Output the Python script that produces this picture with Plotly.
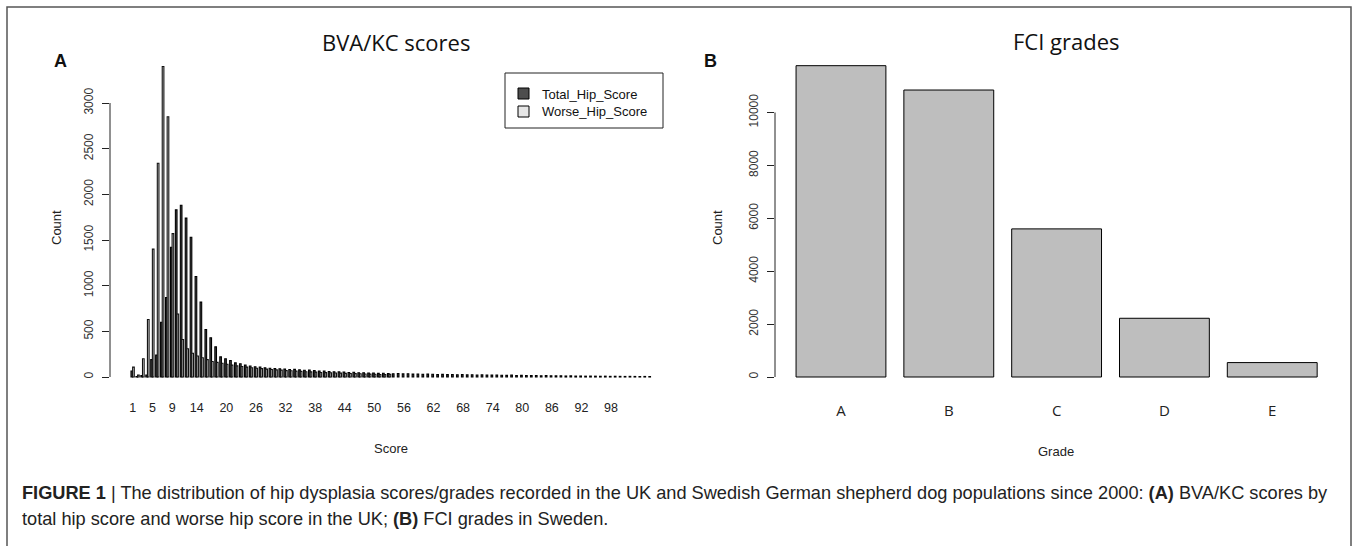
import plotly.graph_objects as go

W, H = 1360, 546

# ---- Panel A: BVA/KC hip scores (UK) ----
scores = list(range(1, 107))
total_hip_score = [
    65, 5, 15, 20, 190, 240, 600, 870, 1420, 1830,
    1880, 1740, 1530, 1100, 820, 520, 430, 330, 220, 200,
    180, 155, 145, 130, 120, 112, 108, 100, 96, 92,
    90, 86, 82, 84, 78, 74, 75, 70, 64, 66,
    60, 58, 56, 55, 50, 52, 46, 47, 44, 43,
    40, 41, 38, 36, 38, 34, 35, 32, 33, 30,
    31, 30, 27, 29, 26, 27, 25, 26, 23, 24,
    22, 23, 20, 21, 20, 19, 18, 20, 17, 18,
    16, 15, 17, 14, 15, 13, 12, 14, 11, 12,
    10, 11, 9, 10, 9, 8, 9, 7, 8, 7,
    6, 7, 6, 5, 6, 5,
]
worse_hip_score = [
    108, 20, 200, 630, 1400, 2340, 3400, 2850, 1570, 690,
    410, 310, 260, 230, 210, 190, 170, 160, 150, 140,
    130, 122, 115, 108, 102, 96, 92, 86, 82, 78,
    75, 70, 68, 64, 62, 58, 56, 53, 50, 48,
    46, 44, 42, 40, 38, 37, 35, 33, 31, 30,
    28, 26, 30,
]
score_tick_labels = [1, 5, 9, 14, 20, 26, 32, 38, 44, 50, 56, 62, 68, 74, 80, 86, 92, 98]
count_ticks_a = [0, 500, 1000, 1500, 2000, 2500, 3000]

# ---- Panel B: FCI grades (Sweden) ----
grades = ["A", "B", "C", "D", "E"]
fci_counts = [11770, 10850, 5600, 2220, 545]
count_ticks_b = [0, 2000, 4000, 6000, 8000, 10000]


def px(x):
    return x / W


def py(y):
    return 1 - y / H


ARIAL = "Liberation Sans, Arial, sans-serif"
TITLE_FONT = "Open Sans, sans-serif"

fig = go.Figure()

fig.add_trace(go.Bar(
    x=scores, y=total_hip_score, name="Total_Hip_Score",
    offset=-1 / 3, width=1 / 3,
    marker=dict(color="#4D4D4D", line=dict(color="black", width=1.1)),
    xaxis="x", yaxis="y", showlegend=False, hoverinfo="x+y",
))
fig.add_trace(go.Bar(
    x=scores[:len(worse_hip_score)], y=worse_hip_score, name="Worse_Hip_Score",
    offset=0, width=1 / 3,
    marker=dict(color="#E6E6E6", line=dict(color="#111", width=1.1)),
    xaxis="x", yaxis="y", showlegend=False, hoverinfo="x+y",
))
fig.add_trace(go.Bar(
    x=grades, y=fci_counts, name="FCI",
    width=1 / 1.2,
    marker=dict(color="#BEBEBE", line=dict(color="black", width=1)),
    xaxis="x2", yaxis="y2", showlegend=False, hoverinfo="x+y",
))

ybot, ytop = 389, 54
common_y = dict(
    showgrid=False, zeroline=False, showline=False,
    ticks="outside", ticklen=7, tickwidth=1, tickcolor="#222",
    tickangle=-90, ticklabelstandoff=4,
    tickfont=dict(family=ARIAL, size=12, color="#333"),
    domain=[py(ybot), py(ytop)],
)
# pixels per count: panel A 0.09133, panel B 0.02645 (baseline at y=377)
fig.update_layout(
    width=W, height=H,
    margin=dict(l=0, r=0, t=0, b=0),
    paper_bgcolor="white", plot_bgcolor="white",
    barmode="overlay",
    xaxis=dict(
        domain=[px(110), px(673)], range=[-3.59, 110.56],
        showgrid=False, zeroline=False, showline=False,
        tickvals=score_tick_labels, ticktext=[str(v) for v in score_tick_labels],
        ticks="outside", ticklen=7, tickcolor="rgba(0,0,0,0)",
        tickfont=dict(family=ARIAL, size=12.5, color="#222"),
        anchor="y",
    ),
    yaxis=dict(
        range=[(377 - ybot) / 0.09133, (377 - ytop) / 0.09133],
        tickvals=count_ticks_a, ticktext=[str(v) for v in count_ticks_a],
        anchor="x", **common_y,
    ),
    xaxis2=dict(
        domain=[px(775), px(1338)], range=[-0.612, 4.61],
        showgrid=False, zeroline=False, showline=False,
        ticks="outside", ticklen=8, tickcolor="rgba(0,0,0,0)",
        tickfont=dict(family=TITLE_FONT, size=15, color="#222"),
        anchor="y2",
    ),
    yaxis2=dict(
        range=[(377 - ybot) / 0.02645, (377 - ytop) / 0.02645],
        tickvals=count_ticks_b, ticktext=[str(v) for v in count_ticks_b],
        anchor="x2", **common_y,
    ),
)

shapes = [
    # outer frame
    dict(type="rect", xref="paper", yref="paper",
         x0=px(7), x1=px(1351), y0=py(560), y1=py(7),
         line=dict(color="#555", width=1.5)),
    # R-style axis lines spanning only the tick range
    dict(type="line", xref="x domain", yref="y", x0=0, x1=0, y0=0, y1=3000,
         line=dict(color="#222", width=1)),
    dict(type="line", xref="x2 domain", yref="y2", x0=0, x1=0, y0=0, y1=10000,
         line=dict(color="#222", width=1)),
    # legend box and swatches
    dict(type="rect", xref="paper", yref="paper",
         x0=px(505), x1=px(663), y0=py(128), y1=py(73),
         line=dict(color="#222", width=1), fillcolor="white"),
    dict(type="rect", xref="paper", yref="paper",
         x0=px(518), x1=px(529), y0=py(99), y1=py(88),
         line=dict(color="black", width=1), fillcolor="#4D4D4D"),
    dict(type="rect", xref="paper", yref="paper",
         x0=px(518), x1=px(529), y0=py(117), y1=py(106),
         line=dict(color="black", width=1), fillcolor="#E6E6E6"),
]
fig.update_layout(shapes=shapes)


def note(text, x, y, size, family=ARIAL, xanchor="center", angle=0, color="#222"):
    return dict(text=text, x=px(x), y=py(y), xref="paper", yref="paper",
                xanchor=xanchor, yanchor="middle", showarrow=False,
                textangle=angle, font=dict(family=family, size=size, color=color))


annotations = [
    note("BVA/KC scores", 396, 42, 22, TITLE_FONT, color="#111"),
    note("FCI grades", 1066, 41, 22, TITLE_FONT, color="#111"),
    note("<b>A</b>", 60, 61, 18, color="#111"),
    note("<b>B</b>", 710, 61, 18, color="#111"),
    note("Count", 56, 228, 13, angle=-90),
    note("Count", 717, 228, 13, angle=-90),
    note("Score", 391, 448, 13),
    note("Grade", 1056, 452, 13),
    note("Total_Hip_Score", 540, 94, 13, xanchor="left", color="#111"),
    note("Worse_Hip_Score", 540, 112, 13, xanchor="left", color="#111"),
    note("<b>FIGURE 1</b> | The distribution of hip dysplasia scores/grades recorded in the UK and "
         "Swedish German shepherd dog populations since 2000: <b>(A)</b> BVA/KC scores by",
         20, 493, 18.2, xanchor="left", color="#222"),
    note("total hip score and worse hip score in the UK; <b>(B)</b> FCI grades in Sweden.",
         20, 519, 18.2, xanchor="left", color="#222"),
]
fig.update_layout(annotations=annotations)

fig.write_html("out.html", config={"displayModeBar": False})
